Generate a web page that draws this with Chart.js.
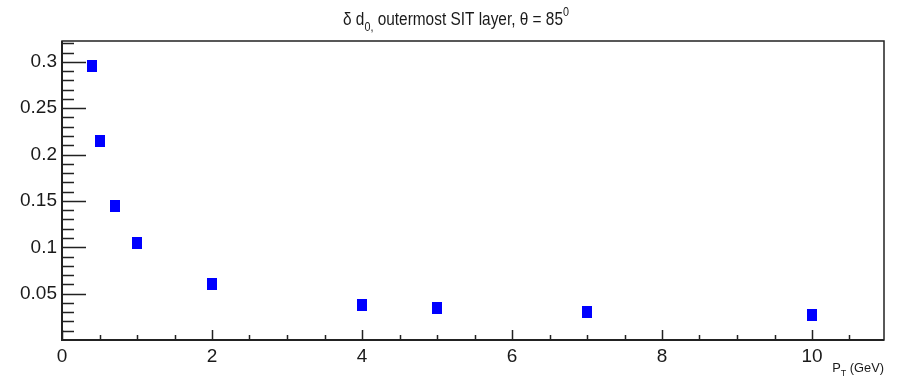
<!DOCTYPE html>
<html>
<head>
<meta charset="utf-8">
<script src="https://cdn.jsdelivr.net/npm/chart.js@4"></script>
<style>
  html, body { margin: 0; padding: 0; background: #ffffff; }
  #wrap { width: 897px; height: 376px; position: relative; }
</style>
</head>
<body>
<div id="wrap"><canvas id="c" width="897" height="376"></canvas></div>
<script>
// ---- data ----
const ptValues   = [0.4, 0.5, 0.7, 1, 2, 4, 5, 7, 10];
const d0Values   = [0.295, 0.215, 0.145, 0.105, 0.060, 0.038, 0.034, 0.030, 0.027];
const xTickValues = [0, 2, 4, 6, 8, 10];
const xTickLabels = ['0', '2', '4', '6', '8', '10'];
const yTickValues = [0.05, 0.1, 0.15, 0.2, 0.25, 0.3];
const yTickLabels = ['0.05', '0.1', '0.15', '0.2', '0.25', '0.3'];
const titleParts = [
  { t: 'δ d', k: 'n' }, { t: '0,', k: 'sub' },
  { t: ' outermost SIT layer, θ = 85', k: 'n' }, { t: '0', k: 'sup' }
];
const xTitleParts = [{ t: 'P', k: 'n' }, { t: 'T', k: 'sub' }, { t: ' (GeV)', k: 'n' }];

const FONT = "'Liberation Sans Narrow', 'Liberation Sans', Arial, sans-serif";
const AXIS_COLOR = '#222222';
const TEXT_COLOR = '#1a1a1a';

// marker image (ROOT-like filled rectangle)
const marker = document.createElement('canvas');
marker.width = 10; marker.height = 12;
(function () { const m = marker.getContext('2d'); m.fillStyle = '#0000ff'; m.fillRect(0, 0, 10, 12); })();

function drawRich(ctx, parts, x, y, size, align, squeeze) {
  ctx.save();
  ctx.translate(x, y);
  ctx.scale(squeeze, 1);
  const widths = parts.map(p => {
    const s = p.k === 'n' ? size : size * 0.7;
    ctx.font = s + 'px ' + FONT;
    return ctx.measureText(p.t).width;
  });
  const total = widths.reduce((a, b) => a + b, 0);
  let cx = align === 'right' ? -total : (align === 'center' ? -total / 2 : 0);
  parts.forEach((p, i) => {
    const s = p.k === 'n' ? size : size * 0.7;
    ctx.font = s + 'px ' + FONT;
    let dy = 0;
    if (p.k === 'sub') dy = size * 0.32;
    if (p.k === 'sup') dy = -size * 0.5;
    ctx.fillText(p.t, cx, dy);
    cx += widths[i];
  });
  ctx.restore();
}

const framePlugin = {
  id: 'rootFrame',
  afterDraw(chart) {
    const ctx = chart.ctx;
    const a = chart.chartArea;
    const xs = chart.scales.x, ys = chart.scales.y;
    ctx.save();
    ctx.strokeStyle = AXIS_COLOR;
    // frame
    ctx.lineWidth = 1.5;
    ctx.strokeRect(a.left, a.top, a.right - a.left, a.bottom - a.top);
    ctx.lineWidth = 2;
    ctx.beginPath();
    ctx.moveTo(a.left, a.top); ctx.lineTo(a.left, a.bottom); ctx.lineTo(a.right, a.bottom);
    ctx.stroke();
    // x ticks (inward)
    ctx.lineWidth = 1.5;
    ctx.beginPath();
    for (let i = 0; i <= 21; i++) {
      const v = i * 0.5;
      const px = Math.round(xs.getPixelForValue(v)) + 0.5;
      const len = (i % 4 === 0) ? 10 : 5;
      ctx.moveTo(px, a.bottom); ctx.lineTo(px, a.bottom - len);
    }
    // y ticks (inward)
    for (let i = 1; i <= 32; i++) {
      const v = i * 0.01;
      const py = Math.round(ys.getPixelForValue(v)) + 0.5;
      const len = (i % 5 === 0) ? 24 : 12;
      ctx.moveTo(a.left, py); ctx.lineTo(a.left + len, py);
    }
    ctx.stroke();
    // titles
    ctx.fillStyle = TEXT_COLOR;
    ctx.textBaseline = 'alphabetic';
    drawRich(ctx, titleParts, 456, 25, 17.5, 'center', 0.88);
    drawRich(ctx, xTitleParts, 884, 372, 13.5, 'right', 0.95);
    ctx.restore();
  }
};

new Chart(document.getElementById('c'), {
  type: 'scatter',
  data: {
    datasets: [{
      data: ptValues.map((x, i) => ({ x: x, y: d0Values[i] })),
      pointStyle: marker,
      pointRadius: 6,
      pointHoverRadius: 6,
      showLine: false
    }]
  },
  options: {
    responsive: false,
    animation: false,
    events: [],
    layout: { padding: { top: 41, right: 13, left: 0, bottom: 0 } },
    plugins: { legend: { display: false }, tooltip: { enabled: false }, title: { display: false } },
    scales: {
      x: {
        type: 'linear', min: 0, max: 10.96,
        afterBuildTicks(s) { s.ticks = xTickValues.map(v => ({ value: v })); },
        afterFit(s) { s.height = 36; },
        grid: { display: false, drawTicks: false },
        border: { display: false },
        ticks: {
          padding: 5, color: TEXT_COLOR, maxRotation: 0, autoSkip: false,
          font: { family: FONT, size: 19 },
          callback(v) { const i = xTickValues.indexOf(v); return i >= 0 ? xTickLabels[i] : ''; }
        }
      },
      y: {
        type: 'linear', min: 0, max: 0.3225,
        afterBuildTicks(s) { s.ticks = yTickValues.map(v => ({ value: v })); },
        afterFit(s) { s.width = 62; },
        grid: { display: false, drawTicks: false },
        border: { display: false },
        ticks: {
          padding: 5, color: TEXT_COLOR, autoSkip: false,
          font: { family: FONT, size: 19 },
          callback(v) { const i = yTickValues.findIndex(t => Math.abs(t - v) < 1e-9); return i >= 0 ? yTickLabels[i] : ''; }
        }
      }
    }
  },
  plugins: [framePlugin]
});
</script>
</body>
</html>
